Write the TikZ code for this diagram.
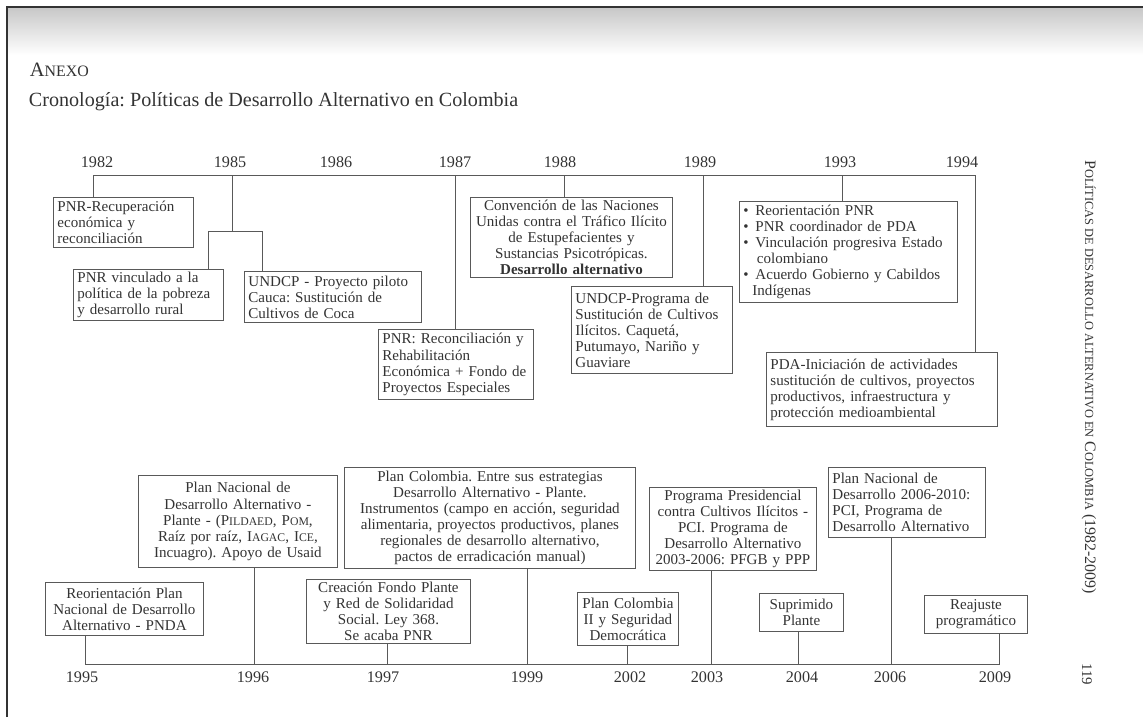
\documentclass[tikz,border=0pt]{standalone}
\usepackage{fontspec}
\setmainfont{Liberation Serif}
\usetikzlibrary{positioning}
\definecolor{ink}{gray}{0.2}
\definecolor{rule}{gray}{0.35}
\newcommand{\fsc}[1]{\scalebox{0.78}{#1}}
\frenchspacing

\begin{document}
\begin{tikzpicture}[x=0.025cm, y=-0.025cm,
  box/.style={draw=rule, line width=0.6pt, anchor=north west, inner xsep=0.1cm, inner ysep=1pt, text=ink, font=\fontsize{10.7}{11.4}\selectfont},
  lbox/.style={box, align=left},
  cbox/.style={box, align=center},
  year/.style={anchor=base, text=ink, font=\fontsize{11.5}{13}\selectfont},
  tl/.style={draw=rule, line width=0.6pt}]
  \useasboundingbox (0,0) rectangle (1143,717);
  \shade[top color=black!22, bottom color=white] (7,7) rectangle (1143,55);
  \draw[black!80, line width=0.8pt] (7,717) -- (7,7) -- (1143,7);

  \node[anchor=base west, text=ink, font=\fontsize{14.5}{16}\selectfont] (anexo) at (25,76) {A\fsc{NEXO}};
  \node[anchor=base west, text=ink, font=\fontsize{14.3}{16}\selectfont] (titulo) at (24,106) {Cronología: Políticas de Desarrollo Alternativo en Colombia};
  \node[rotate=-90, text=ink, font=\fontsize{11.3}{13}\selectfont] (cabeza) at (1089,377) {P\fsc{OLÍTICAS DE DESARROLLO ALTERNATIVO EN} C\fsc{OLOMBIA} (1982-2009)};
  \node[rotate=-90, text=ink, font=\fontsize{10.5}{12}\selectfont] (pagina) at (1087,674) {119};

  % 1982-1994
  \node[lbox, text width=3.3cm, minimum height=1.25cm] (b82) at (53,197) {PNR-Recuperación\\económica y\\reconciliación};
  \node[lbox, text width=3.55cm, minimum height=1.275cm] (b85a) at (73,269) {PNR vinculado a la\\política de la pobreza\\y desarrollo rural};
  \node[lbox, text width=4.225cm, minimum height=1.275cm] (b85b) at (244,271) {UNDCP - Proyecto piloto\\Cauca: Sustitución de\\Cultivos de Coca};
  \node[lbox, text width=3.675cm, minimum height=1.75cm] (b87) at (378,329) {PNR: Reconciliación y\\Rehabilitación\\Económica + Fondo de\\Proyectos Especiales};
  \node[cbox, text width=4.85cm, minimum height=2cm] (b88) at (470,197) {Convención de las Naciones\\Unidas contra el Tráfico Ilícito\\de Estupefacientes y\\Sustancias Psicotrópicas.\\\textbf{Desarrollo alternativo}};
  \node[lbox, text width=3.825cm, minimum height=2.175cm] (b89) at (571,286) {UNDCP-Programa de\\Sustitución de Cultivos\\Ilícitos. Caquetá,\\Putumayo, Nariño y\\Guaviare};
  \node[lbox, text width=5.25cm, minimum height=2.525cm] (b93) at (739,201) {\makebox[0.8em][l]{\textbullet}Reorientación PNR\\\makebox[0.8em][l]{\textbullet}PNR coordinador de PDA\\\makebox[0.8em][l]{\textbullet}Vinculación progresiva Estado\\\hspace*{0.9em}colombiano\\\makebox[0.8em][l]{\textbullet}Acuerdo Gobierno y Cabildos\\\hspace*{0.6em}Indígenas};
  \node[lbox, text width=5.575cm, minimum height=1.85cm] (b94) at (766,352) {PDA-Iniciación de actividades\\sustitución de cultivos, proyectos\\productivos, infraestructura y\\protección medioambiental};

  \node[year] (y82) at (97,167) {1982};
  \node[year] (y85) at (230,167) {1985};
  \node[year] (y86) at (336,167) {1986};
  \node[year] (y87) at (455,167) {1987};
  \node[year] (y88) at (560,167) {1988};
  \node[year] (y89) at (700,167) {1989};
  \node[year] (y93) at (840,167) {1993};
  \node[year] (y94) at (962,167) {1994};

  \coordinate (t82) at (93,175.5);
  \coordinate (t85) at (232,175.5);
  \coordinate (t87) at (455,175.5);
  \coordinate (t88) at (564,175.5);
  \coordinate (t89) at (703,175.5);
  \coordinate (t93) at (842,175.5);
  \coordinate (t94) at (975,175.5);
  \coordinate (j85) at (232,231);
  \coordinate (j85l) at (208,231);
  \coordinate (j85r) at (262,231);

  \draw[tl] (t82) -- (t94) -- (b94.north -| t94);
  \draw[tl] (t82) -- (b82.north -| t82);
  \draw[tl] (t85) -- (j85);
  \draw[tl] (b85a.north -| j85l) -- (j85l) -- (j85r) -- (b85b.north -| j85r);
  \draw[tl] (t87) -- (b87.north -| t87);
  \draw[tl] (t88) -- (b88.north -| t88);
  \draw[tl] (t89) -- (b89.north -| t89);
  \draw[tl] (t93) -- (b93.north -| t93);

  % 1995-2009
  \node[cbox, text width=3.75cm, minimum height=1.325cm] (b95) at (45,582) {Reorientación Plan\\Nacional de Desarrollo\\Alternativo - PNDA};
  \node[cbox, text width=4.775cm, minimum height=2.3cm] (b96) at (138,475) {Plan Nacional de\\Desarrollo Alternativo -\\Plante - (P\fsc{ILDAED}, P\fsc{OM},\\Raíz por raíz, I\fsc{AGAC}, I\fsc{CE},\\Incuagro). Apoyo de Usaid};
  \node[cbox, text width=3.9cm, minimum height=1.6cm] (b97) at (306,579) {Creación Fondo Plante\\y Red de Solidaridad\\Social. Ley 368.\\Se acaba PNR};
  \node[cbox, text width=7.075cm, minimum height=2.525cm] (b99) at (344,467) {Plan Colombia. Entre sus estrategias\\Desarrollo Alternativo - Plante.\\Instrumentos (campo en acción, seguridad\\alimentaria, proyectos productivos, planes\\regionales de desarrollo alternativo,\\pactos de erradicación manual)};
  \node[cbox, text width=2.325cm, minimum height=1.325cm] (b02) at (577,592) {Plan Colombia\\II y Seguridad\\Democrática};
  \node[cbox, text width=3.975cm, minimum height=2.075cm] (b03) at (649,487) {Programa Presidencial\\contra Cultivos Ilícitos -\\PCI. Programa de\\Desarrollo Alternativo\\2003-2006: PFGB y PPP};
  \node[cbox, text width=1.9cm, minimum height=0.95cm] (b04) at (759,593) {Suprimido\\Plante};
  \node[lbox, text width=3.725cm, minimum height=1.75cm] (b06) at (828,467) {Plan Nacional de\\Desarrollo 2006-2010:\\PCI, Programa de\\Desarrollo Alternativo};
  \node[cbox, text width=2.375cm, minimum height=0.95cm] (b09) at (924,595) {Reajuste\\programático};

  \node[year] (y95) at (82,682) {1995};
  \node[year] (y96) at (253,682) {1996};
  \node[year] (y97) at (383,682) {1997};
  \node[year] (y99) at (527,682) {1999};
  \node[year] (y02) at (630,682) {2002};
  \node[year] (y03) at (707,682) {2003};
  \node[year] (y04) at (802,682) {2004};
  \node[year] (y06) at (890,682) {2006};
  \node[year] (y09) at (995,682) {2009};

  \coordinate (u95) at (85,664);
  \coordinate (u96) at (254,664);
  \coordinate (u97) at (387,664);
  \coordinate (u99) at (527,664);
  \coordinate (u02) at (627,664);
  \coordinate (u03) at (711,664);
  \coordinate (u04) at (798,664);
  \coordinate (u06) at (891,664);
  \coordinate (u09) at (999,664);

  \draw[tl] (b95.south -| u95) -- (u95) -- (u09) -- (b09.south -| u09);
  \draw[tl] (u96) -- (b96.south -| u96);
  \draw[tl] (u97) -- (b97.south -| u97);
  \draw[tl] (u99) -- (b99.south -| u99);
  \draw[tl] (u02) -- (b02.south -| u02);
  \draw[tl] (u03) -- (b03.south -| u03);
  \draw[tl] (u04) -- (b04.south -| u04);
  \draw[tl] (u06) -- (b06.south -| u06);
\end{tikzpicture}
\end{document}
